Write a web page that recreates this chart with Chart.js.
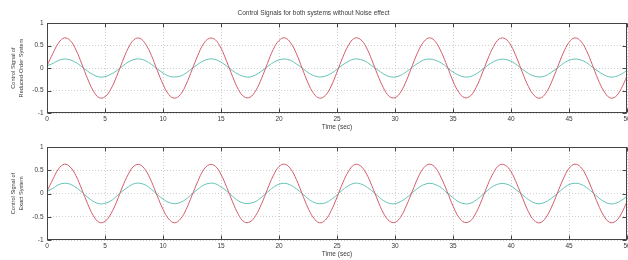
<!DOCTYPE html>
<html>
<head>
<meta charset="utf-8">
<script src="https://cdn.jsdelivr.net/npm/chart.js@4.4.1/dist/chart.umd.min.js"></script>
<style>
  html, body { margin: 0; padding: 0; background: #ffffff; }
  body { width: 628px; height: 260px; position: relative; overflow: hidden; }
  .wrap { position: absolute; left: 0; width: 628px; height: 133px; }
</style>
</head>
<body>
<div class="wrap" style="top:0px"><canvas id="top" width="628" height="133"></canvas></div>
<div class="wrap" style="top:127px"><canvas id="bottom" width="628" height="133"></canvas></div>
<script>
// ---- data ----
const chartTitle = "Control Signals for both systems without Noise effect";
const xAxisTitle = "Time (sec)";
const topYTitle = ["Control Signal of", "Reduced-Order System"];
const bottomYTitle = ["Control Signal of", "Exact System"];
const xTicks = [0, 5, 10, 15, 20, 25, 30, 35, 40, 45, 50];
const yTicks = [-1, -0.5, 0, 0.5, 1];

const time = [
  0, 0.5, 1, 1.5, 2, 2.5, 3, 3.5, 4, 4.5,
  5, 5.5, 6, 6.5, 7, 7.5, 8, 8.5, 9, 9.5,
  10, 10.5, 11, 11.5, 12, 12.5, 13, 13.5, 14, 14.5,
  15, 15.5, 16, 16.5, 17, 17.5, 18, 18.5, 19, 19.5,
  20, 20.5, 21, 21.5, 22, 22.5, 23, 23.5, 24, 24.5,
  25, 25.5, 26, 26.5, 27, 27.5, 28, 28.5, 29, 29.5,
  30, 30.5, 31, 31.5, 32, 32.5, 33, 33.5, 34, 34.5,
  35, 35.5, 36, 36.5, 37, 37.5, 38, 38.5, 39, 39.5,
  40, 40.5, 41, 41.5, 42, 42.5, 43, 43.5, 44, 44.5,
  45, 45.5, 46, 46.5, 47, 47.5, 48, 48.5, 49, 49.5,
  50
];

const reducedRed = [
  0.05, 0.32, 0.56, 0.67, 0.61, 0.40, 0.09, -0.24, -0.51, -0.66,
  -0.64, -0.47, -0.19, 0.14, 0.44, 0.63, 0.66, 0.53, 0.28, -0.05,
  -0.36, -0.59, -0.67, -0.59, -0.36, -0.04, 0.28, 0.54, 0.66, 0.63,
  0.44, 0.14, -0.19, -0.48, -0.64, -0.65, -0.50, -0.23, 0.10, 0.41,
  0.61, 0.67, 0.56, 0.32, -0.01, -0.33, -0.57, -0.67, -0.61, -0.40,
  -0.09, 0.24, 0.51, 0.66, 0.64, 0.47, 0.18, -0.15, -0.44, -0.63,
  -0.66, -0.53, -0.27, 0.06, 0.37, 0.59, 0.67, 0.58, 0.35, 0.04,
  -0.29, -0.54, -0.66, -0.62, -0.43, -0.13, 0.20, 0.48, 0.65, 0.65,
  0.50, 0.22, -0.11, -0.41, -0.61, -0.67, -0.56, -0.31, 0.01, 0.33,
  0.57, 0.67, 0.60, 0.39, 0.08, -0.25, -0.51, -0.66, -0.64, -0.46,
  -0.18
];
const reducedCyan = [
  0.05, 0.10, 0.17, 0.20, 0.18, 0.12, 0.03, -0.07, -0.15, -0.20,
  -0.19, -0.14, -0.06, 0.04, 0.13, 0.19, 0.20, 0.16, 0.08, -0.02,
  -0.11, -0.18, -0.20, -0.18, -0.11, -0.01, 0.08, 0.16, 0.20, 0.19,
  0.13, 0.04, -0.06, -0.14, -0.19, -0.20, -0.15, -0.07, 0.03, 0.12,
  0.18, 0.20, 0.17, 0.09, 0.00, -0.10, -0.17, -0.20, -0.18, -0.12,
  -0.03, 0.07, 0.15, 0.20, 0.19, 0.14, 0.05, -0.04, -0.13, -0.19,
  -0.20, -0.16, -0.08, 0.02, 0.11, 0.18, 0.20, 0.17, 0.11, 0.01,
  -0.09, -0.16, -0.20, -0.19, -0.13, -0.04, 0.06, 0.14, 0.19, 0.19,
  0.15, 0.07, -0.03, -0.12, -0.18, -0.20, -0.17, -0.09, 0.00, 0.10,
  0.17, 0.20, 0.18, 0.12, 0.02, -0.07, -0.15, -0.20, -0.19, -0.14,
  -0.05
];
const exactRed = [
  0.05, 0.30, 0.53, 0.63, 0.57, 0.38, 0.09, -0.22, -0.48, -0.62,
  -0.60, -0.44, -0.18, 0.14, 0.41, 0.59, 0.62, 0.50, 0.26, -0.05,
  -0.34, -0.55, -0.63, -0.55, -0.34, -0.04, 0.26, 0.51, 0.62, 0.59,
  0.41, 0.13, -0.18, -0.45, -0.61, -0.61, -0.47, -0.22, 0.09, 0.38,
  0.58, 0.63, 0.53, 0.30, -0.01, -0.31, -0.53, -0.63, -0.57, -0.37,
  -0.08, 0.23, 0.48, 0.62, 0.60, 0.44, 0.17, -0.14, -0.42, -0.59,
  -0.62, -0.50, -0.25, 0.05, 0.35, 0.56, 0.63, 0.55, 0.33, 0.04,
  -0.27, -0.51, -0.62, -0.59, -0.41, -0.13, 0.19, 0.45, 0.61, 0.61,
  0.47, 0.21, -0.10, -0.39, -0.58, -0.63, -0.52, -0.29, 0.01, 0.31,
  0.54, 0.63, 0.57, 0.37, 0.08, -0.23, -0.48, -0.62, -0.60, -0.44,
  -0.17
];
const exactCyan = [
  0.05, 0.11, 0.19, 0.22, 0.20, 0.13, 0.03, -0.08, -0.17, -0.22,
  -0.21, -0.16, -0.06, 0.05, 0.14, 0.21, 0.22, 0.18, 0.09, -0.02,
  -0.12, -0.19, -0.22, -0.19, -0.12, -0.01, 0.09, 0.18, 0.22, 0.21,
  0.14, 0.05, -0.06, -0.16, -0.21, -0.21, -0.17, -0.08, 0.03, 0.13,
  0.20, 0.22, 0.18, 0.10, 0.00, -0.11, -0.19, -0.22, -0.20, -0.13,
  -0.03, 0.08, 0.17, 0.22, 0.21, 0.15, 0.06, -0.05, -0.15, -0.21,
  -0.22, -0.17, -0.09, 0.02, 0.12, 0.19, 0.22, 0.19, 0.12, 0.01,
  -0.09, -0.18, -0.22, -0.21, -0.14, -0.04, 0.07, 0.16, 0.21, 0.21,
  0.16, 0.07, -0.03, -0.13, -0.20, -0.22, -0.18, -0.10, 0.00, 0.11,
  0.19, 0.22, 0.20, 0.13, 0.03, -0.08, -0.17, -0.22, -0.21, -0.15,
  -0.06
];

// ---- styling ----
const RED = '#d35c6c';
const CYAN = '#63c2b4';
const TEXT = '#3a3a3a';
const FONT = "'Liberation Sans', Arial, sans-serif";

function pts(arr) { return arr.map((v, i) => ({ x: time[i], y: v })); }

// box + inward tick marks (MATLAB style), positioned by the library's scales
const boxPlugin = {
  id: 'plotbox',
  afterDraw(chart) {
    const ctx = chart.ctx;
    const a = chart.chartArea;
    const sx = chart.scales.x, sy = chart.scales.y;
    ctx.save();
    ctx.setLineDash([]);
    ctx.strokeStyle = '#444444';
    ctx.lineWidth = 1;
    const L = Math.round(a.left) + 0.5, R = Math.round(a.right) - 0.5;
    const T = Math.round(a.top) + 0.5, B = Math.round(a.bottom) - 0.5;
    ctx.strokeRect(L, T, R - L, B - T);
    const tl = 4;
    ctx.beginPath();
    for (const v of xTicks) {
      const px = Math.round(sx.getPixelForValue(v)) + 0.5;
      ctx.moveTo(px, B); ctx.lineTo(px, B - tl);
      ctx.moveTo(px, T); ctx.lineTo(px, T + tl);
    }
    for (const v of yTicks) {
      const py = Math.round(sy.getPixelForValue(v)) + 0.5;
      ctx.moveTo(L, py); ctx.lineTo(L + tl, py);
      ctx.moveTo(R, py); ctx.lineTo(R - tl, py);
    }
    ctx.stroke();
    ctx.restore();
  }
};

function makeChart(id, red, cyan, yTitle, withTitle, padTop) {
  return new Chart(document.getElementById(id), {
    type: 'line',
    data: {
      datasets: [
        { data: pts(red), borderColor: RED, borderWidth: 1, pointRadius: 0, tension: 0.4, fill: false },
        { data: pts(cyan), borderColor: CYAN, borderWidth: 1, pointRadius: 0, tension: 0.4, fill: false }
      ]
    },
    options: {
      responsive: false,
      animation: false,
      devicePixelRatio: 1,
      layout: { padding: { left: 0, right: 1, top: padTop, bottom: 0 } },
      plugins: {
        legend: { display: false },
        tooltip: { enabled: false },
        title: {
          display: withTitle,
          text: chartTitle,
          color: TEXT,
          font: { family: FONT, size: 6.5, weight: 'normal', lineHeight: 1.2 },
          padding: { top: 9.5, bottom: 5.7 }
        }
      },
      scales: {
        x: {
          type: 'linear',
          min: 0, max: 50,
          afterBuildTicks: s => { s.ticks = xTicks.map(v => ({ value: v })); },
          afterFit: s => { s.height = 20; s.paddingRight = 0; s.paddingLeft = 0; },
          ticks: { color: TEXT, font: { family: FONT, size: 6.5 }, padding: 2, maxRotation: 0, autoSkip: false },
          grid: { color: '#cfcfcf', lineWidth: 1, drawTicks: false },
          border: { display: false, dash: [1, 2] },
          title: {
            display: true, text: xAxisTitle, color: TEXT,
            font: { family: FONT, size: 6.5, lineHeight: 1.2 },
            padding: { top: 0, bottom: 1.5 }
          }
        },
        y: {
          min: -1, max: 1,
          afterBuildTicks: s => { s.ticks = yTicks.map(v => ({ value: v })); },
          afterFit: s => { s.width = 47; },
          ticks: { color: TEXT, font: { family: FONT, size: 6.5 }, padding: 3.5, callback: v => String(v) },
          grid: { color: '#cfcfcf', lineWidth: 1, drawTicks: false },
          border: { display: false, dash: [1, 2] },
          title: {
            display: true, text: yTitle, color: TEXT,
            font: { family: FONT, size: 5.6, lineHeight: 1.45 },
            padding: { top: 9, bottom: 0 }
          }
        }
      }
    },
    plugins: [boxPlugin]
  });
}

makeChart('top', reducedRed, reducedCyan, topYTitle, true, 0);
makeChart('bottom', exactRed, exactCyan, bottomYTitle, false, 20);
</script>
</body>
</html>
